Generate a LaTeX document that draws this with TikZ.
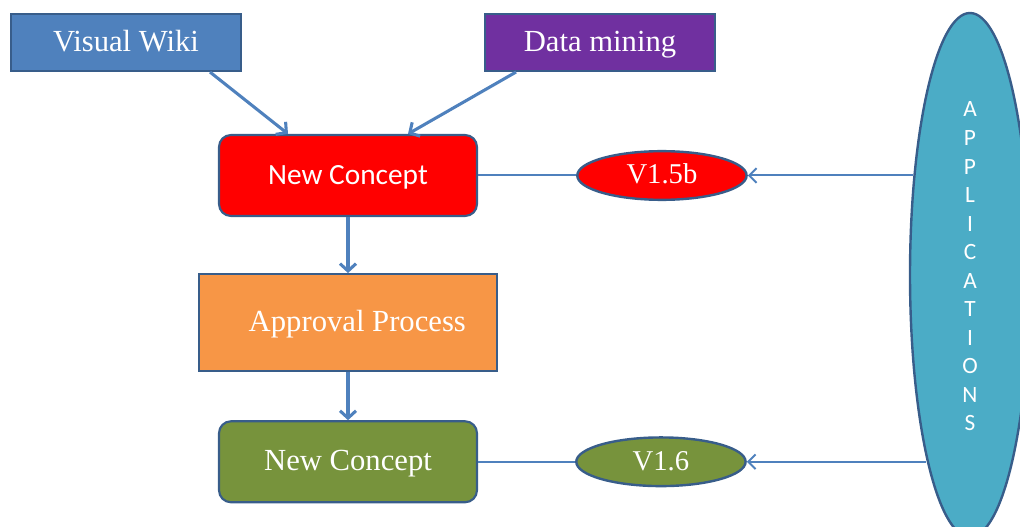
\documentclass[tikz,border=0pt]{standalone}
\usepackage{fontspec}
\setmainfont{Liberation Serif}
\newfontfamily\calfont{Carlito}
\usetikzlibrary{positioning,arrows.meta,shapes.geometric}
\definecolor{edgeblue}{RGB}{56,93,138}
\definecolor{lineblue}{RGB}{79,129,189}
\definecolor{wikiblue}{RGB}{79,129,189}
\definecolor{minepurple}{RGB}{112,48,160}
\definecolor{apprange}{RGB}{247,150,70}
\definecolor{conceptgreen}{RGB}{119,147,60}
\definecolor{appteal}{RGB}{75,172,198}
\tikzset{
  box/.style = {rectangle, draw=edgeblue, line width=1.6pt, text=white,
                inner sep=0pt, text height=15pt, text depth=1.5pt,
                font=\fontsize{23}{27}\selectfont},
  src/.style = {box, minimum width=172pt, minimum height=42.75pt},
  concept/.style = {box, rounded corners=9pt, minimum width=193.5pt,
                minimum height=60.75pt},
  ver/.style = {ellipse, draw=edgeblue, line width=1.8pt, text=white,
                inner sep=0pt, text height=14pt, text depth=1.5pt,
                font=\fontsize{21.5}{26}\selectfont,
                minimum width=127pt, minimum height=36.5pt},
  apps/.style = {ellipse, draw=edgeblue, line width=1.8pt, fill=appteal,
                inner sep=0pt, minimum width=90pt, minimum height=393pt},
  appstext/.style = {text=white, align=center, inner sep=0pt,
                font=\calfont\fontsize{17.5}{21.4}\selectfont},
  arr/.style  = {-{Straight Barb[length=5.5pt,width=12pt]}, draw=lineblue,
                line width=2.3pt},
  link/.style = {draw=lineblue, line width=1.5pt},
  larr/.style = {link, -{Straight Barb[length=5.5pt,width=11pt]}}
}
\begin{document}
\begin{tikzpicture}[x=0.75pt,y=-0.75pt]
    \clip (0,0) rectangle (1020,527);
    \node[src,fill=wikiblue] (wiki) at (126,42.5) {Visual Wiki};
    \node[src,fill=minepurple] (mine) at (600,42.5) {Data mining};
    \node[concept,fill=red,font=\calfont\fontsize{22}{26}\selectfont] (newred) at (348,175.5) {New Concept};
    \node[box,fill=apprange,minimum width=223.5pt,minimum height=72.75pt,below=42pt of newred] (appr) {\hspace*{14pt}Approval Process};
    \node[concept,fill=conceptgreen,below=36pt of appr] (newgreen) {New Concept};
    \node[ver,fill=red,right=73.5pt of newred] (vold) {V1.5b};
    \node[ver,fill=conceptgreen,right=72.75pt of newgreen] (vnew) {V1.6};
    \node[apps,label={[appstext,yshift=6.4pt]center:A\\P\\P\\L\\I\\C\\A\\T\\I\\O\\N\\S}] (appl) at (970,275) {};
    \draw[arr] ([xshift=63pt]wiki.south)--([xshift=-45pt]newred.north);
    \draw[arr] ([xshift=-63pt]mine.south)--([xshift=45pt]newred.north);
    \draw[arr] (newred)--(appr);
    \draw[arr] (appr)--(newgreen);
    \draw[link] (newred.east)--(vold.west);
    \draw[link] (newgreen.east)--(vnew.west);
    \draw[larr] ([xshift=3pt]appl.west |- vold.east)--(vold.east);
    \draw[larr] ([xshift=12.75pt]appl.west |- vnew.east)--(vnew.east);
  \end{tikzpicture}
\end{document}
